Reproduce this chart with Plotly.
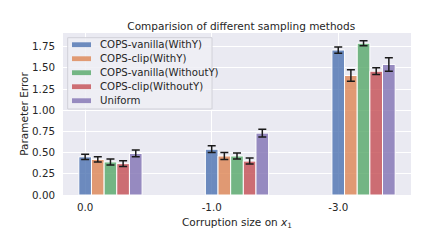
import plotly.graph_objects as go

categories = ["0.0", "-1.0", "-3.0"]
series_names = ["COPS-vanilla(WithY)", "COPS-clip(WithY)", "COPS-vanilla(WithoutY)",
                "COPS-clip(WithoutY)", "Uniform"]
vanilla_withy = [0.45, 0.54, 1.71]
vanilla_withy_err = [0.03, 0.04, 0.037]
clip_withy = [0.42, 0.46, 1.41]
clip_withy_err = [0.03, 0.04, 0.067]
vanilla_withouty = [0.39, 0.46, 1.79]
vanilla_withouty_err = [0.035, 0.035, 0.03]
clip_withouty = [0.37, 0.40, 1.46]
clip_withouty_err = [0.035, 0.035, 0.04]
uniform = [0.49, 0.73, 1.54]
uniform_err = [0.04, 0.045, 0.08]
y_ticks = [0, 0.25, 0.5, 0.75, 1.0, 1.25, 1.5, 1.75]

values = [vanilla_withy, clip_withy, vanilla_withouty, clip_withouty, uniform]
errors = [vanilla_withy_err, clip_withy_err, vanilla_withouty_err, clip_withouty_err, uniform_err]
colors = ["rgba(76,114,176,0.8)", "rgba(221,132,82,0.8)", "rgba(85,168,104,0.8)",
          "rgba(196,78,82,0.8)", "rgba(129,114,179,0.8)"]

# the page body adds an 8px offset; build the figure so the plot lands in place
OFF = 8
W, H = 436 - OFF, 249 - OFF
ML, MR, MT, MB = 63 - OFF, 25, 33 - OFF, 54
PW, PH = W - ML - MR, H - MT - MB


def px_x(p):
    return (p - OFF - ML) / PW


def px_y(p):
    return 1 - (p - OFF - MT) / PH


bar_w = 0.1
pos = list(range(len(categories)))
fig = go.Figure()
for i, (name, v, e, c) in enumerate(zip(series_names, values, errors, colors)):
    fig.add_trace(go.Bar(
        x=pos, y=v, name=name, width=bar_w, offset=i * bar_w - bar_w / 2,
        marker=dict(color=c, line=dict(color="white", width=1)),
        error_y=dict(type="data", array=e, color="#1a1a1a", thickness=1.5, width=4),
        showlegend=False,
    ))

# custom legend (matplotlib-like compact rows)
shapes = [dict(type="rect", xref="paper", yref="paper",
               x0=px_x(67.7), x1=px_x(212), y0=px_y(109), y1=px_y(37.7),
               fillcolor="rgba(238,238,245,0.85)", line=dict(color="#d0d0d8", width=1),
               layer="above")]
annotations = []
for i, (name, c) in enumerate(zip(series_names, colors)):
    cy = 44.7 + 14 * i
    shapes.append(dict(type="rect", xref="paper", yref="paper",
                       x0=px_x(72), x1=px_x(91), y0=px_y(cy + 2.4), y1=px_y(cy - 2.4),
                       fillcolor=c, line=dict(width=0), layer="above"))
    annotations.append(dict(x=px_x(97.5), y=px_y(cy), xref="paper", yref="paper",
                            text=name, showarrow=False, xanchor="left", yanchor="middle",
                            font=dict(size=10.2, color="#262626")))

fig.update_layout(
    width=W, height=H,
    margin=dict(l=ML, r=MR, t=MT, b=MB),
    paper_bgcolor="white", plot_bgcolor="#EAEAF2",
    barmode="overlay",
    font=dict(family="DejaVu Sans", size=10.3, color="#262626"),
    title=dict(text="Comparision of different sampling methods", x=0.545, xanchor="center",
               y=1 - (26 - OFF) / H, yanchor="middle", font=dict(size=10.5, color="#262626")),
    showlegend=False,
    shapes=shapes,
    annotations=annotations,
    xaxis=dict(range=[-0.175, 2.575], tickvals=pos, ticktext=categories,
               showgrid=True, gridcolor="white", gridwidth=1, zeroline=False,
               ticks="", showline=False, tickfont=dict(size=10.3), ticklabelstandoff=5,
               title=dict(text="Corruption size on <i>x</i><sub>1</sub>", font=dict(size=10.5),
                          standoff=6)),
    yaxis=dict(range=[0, 1.911], tickvals=y_ticks, tickformat=".2f",
               showgrid=True, gridcolor="white", gridwidth=1, zeroline=False,
               ticks="", showline=False, tickfont=dict(size=10.3), ticklabelstandoff=7,
               title=dict(text="Parameter Error", font=dict(size=10.5), standoff=1)),
)

fig.write_html("out.html")
